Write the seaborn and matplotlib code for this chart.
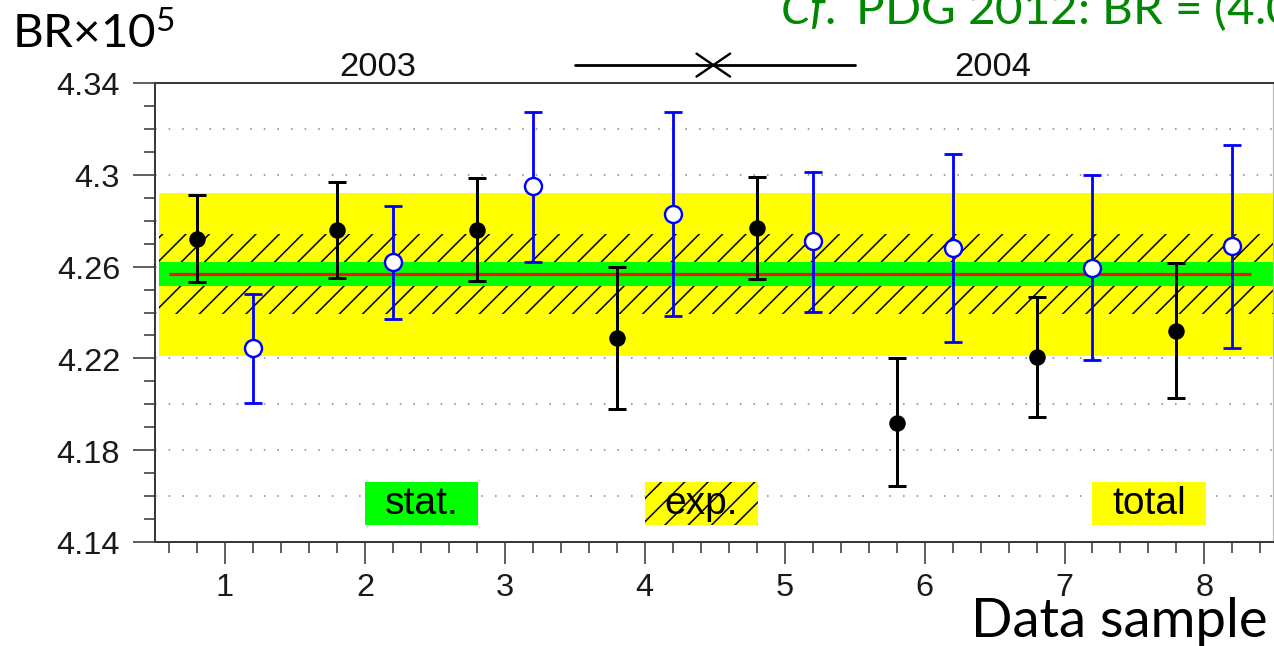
import numpy as np
import pandas as pd
import matplotlib
matplotlib.use("Agg")
import matplotlib.pyplot as plt
import seaborn as sns
from matplotlib.transforms import blended_transform_factory
from matplotlib.patches import Rectangle
from matplotlib.lines import Line2D
from matplotlib.ticker import MultipleLocator, FixedLocator, FuncFormatter

# ---------------- data ----------------
samples = [1, 2, 3, 4, 5, 6, 7, 8]
filled_br = [4.2720, 4.2759, 4.2759, 4.2288, 4.2768, 4.1919, 4.2205, 4.2321]
filled_lo = [4.2531, 4.2550, 4.2539, 4.1980, 4.2544, 4.1643, 4.1946, 4.2027]
filled_hi = [4.2913, 4.2970, 4.2986, 4.2600, 4.2992, 4.2202, 4.2466, 4.2616]
open_br = [4.2244, 4.2619, 4.2950, 4.2829, 4.2710, 4.2680, 4.2592, 4.2691]
open_lo = [4.2006, 4.2372, 4.2621, 4.2383, 4.2404, 4.2271, 4.2194, 4.2245]
open_hi = [4.2481, 4.2865, 4.3272, 4.3272, 4.3012, 4.3089, 4.2998, 4.3130]

br_mean = 4.2567
err_stat = 0.0051
err_exp = 0.0175
err_total = 0.0355

year_labels = ["2003", "2004"]
legend_labels = ["stat.", "exp.", "total"]
y_label = "BR×10$^{\\mathrm{5}}$"
x_label = "Data sample"
pdg_text = r"$\mathit{Cf.}$ PDG 2012: BR = (4.09 ± 0.10)×10$^{-5}$"

# ---------------- style ----------------
DPI = 140
W, H = 1274, 647
P = 72.0 / DPI  # points per pixel

sns.set_theme(style="ticks")
plt.rcParams["font.family"] = ["Liberation Sans", "DejaVu Sans"]
plt.rcParams["mathtext.fontset"] = "custom"
plt.rcParams["mathtext.rm"] = "Lato"
plt.rcParams["mathtext.it"] = "Lato:italic"
plt.rcParams["hatch.linewidth"] = 0.8

fig = plt.figure(figsize=(W / DPI, H / DPI), dpi=DPI)
fig.patch.set_facecolor("white")
ax = fig.add_axes([155 / W, 1 - 543 / H, (1273 - 155) / W, (543 - 84) / H])
ax.set_facecolor("white")

x_off = 0.2
fx = np.array(samples) - x_off
ox = np.array(samples) + x_off
df_f = pd.DataFrame({"x": fx, "br": filled_br})
df_o = pd.DataFrame({"x": ox, "br": open_br})

# grid (dotted)
for gy in np.arange(4.16, 4.33, 0.02):
    ax.axhline(gy, color="#8a8a8a", lw=1.6 * P, ls=(0, (1, 7.5)), zorder=0.5)

# bands
band_x = [0.53, 8.49]
ax.fill_between(band_x, br_mean - err_total, br_mean + err_total,
                color="#ffff00", lw=0, zorder=1)
ax.fill_between(band_x, br_mean - err_exp, br_mean + err_exp,
                facecolor="none", edgecolor="black", hatch="//", lw=0, zorder=1.1)
ax.fill_between(band_x, br_mean - err_stat, br_mean + err_stat,
                color="#00ff00", lw=0, zorder=1.2)
ax.plot([0.6, 8.33], [br_mean, br_mean], color="#ff1010", lw=3.2 * P, zorder=1.3,
        solid_capstyle="butt")

# error bars
ax.errorbar(fx, filled_br,
            yerr=[np.array(filled_br) - np.array(filled_lo), np.array(filled_hi) - np.array(filled_br)],
            fmt="none", ecolor="black", elinewidth=3.0 * P, capsize=9.5 * P,
            capthick=3.0 * P, zorder=2)
ax.errorbar(ox, open_br,
            yerr=[np.array(open_br) - np.array(open_lo), np.array(open_hi) - np.array(open_br)],
            fmt="none", ecolor="#0000ff", elinewidth=2.8 * P, capsize=9.5 * P,
            capthick=2.8 * P, zorder=2)

sns.scatterplot(data=df_f, x="x", y="br", ax=ax, color="black", s=(16.5 * P) ** 2,
                edgecolor="black", linewidth=0, zorder=3, legend=False)
sns.scatterplot(data=df_o, x="x", y="br", ax=ax, facecolor="white", s=(17 * P) ** 2,
                edgecolor="#0000ff", linewidth=2.4 * P, zorder=3, legend=False)

# axes
ax.set_xlim(0.5, 8.49)
ax.set_ylim(4.14, 4.34)
ax.set_xlabel("")
ax.set_ylabel("")
ax.xaxis.set_major_locator(MultipleLocator(1))
ax.xaxis.set_minor_locator(MultipleLocator(0.2))
ax.yaxis.set_major_locator(FixedLocator(np.arange(4.14, 4.3401, 0.04)))
ax.yaxis.set_minor_locator(FixedLocator(np.arange(4.14, 4.3401, 0.01)))
ax.yaxis.set_major_formatter(FuncFormatter(lambda v, p: f"{v:.2f}".rstrip("0")))
ax.xaxis.set_major_formatter(FuncFormatter(lambda v, p: f"{int(round(v))}"))
spine_c = "#3a3a3a"
for s in ax.spines.values():
    s.set_visible(True)
    s.set_color(spine_c)
    s.set_linewidth(2.0 * P)
ax.spines["right"].set_color("#b8b8b8")
ax.spines["right"].set_linewidth(1.2 * P)
ax.tick_params(axis="both", which="major", direction="out", length=22 * P, width=1.6 * P,
               color=spine_c, labelsize=32.5 * P, labelcolor="#1a1a1a")
ax.tick_params(axis="both", which="minor", direction="out", length=11.5 * P, width=1.6 * P,
               color=spine_c)
ax.tick_params(axis="y", which="major", pad=13 * P)
ax.tick_params(axis="x", which="major", pad=8 * P)
ax.tick_params(top=False, right=False, which="both")

# legend boxes (in data coords)
box_y0, box_h = 4.1475, 0.0188
boxes = [(2.0, "#00ff00", None, legend_labels[0]),
         (4.0, "#ffff00", "//", legend_labels[1]),
         (7.2, "#ffff00", None, legend_labels[2])]
for bx, col, hat, lab in boxes:
    ax.add_patch(Rectangle((bx, box_y0), 0.81, box_h, facecolor=col, lw=0, zorder=4))
    if hat:
        ax.add_patch(Rectangle((bx, box_y0), 0.81, box_h, facecolor="none",
                               edgecolor="black", hatch=hat, lw=0, zorder=4.1))
    ax.text(bx + 0.405, box_y0 + box_h / 2, lab, ha="center", va="center",
            fontsize=39 * P, color="black", zorder=5)

# year annotations above plot
tr = blended_transform_factory(ax.transData, ax.transAxes)
for xc, lab in zip([2.09, 6.49], year_labels):
    ax.text(xc, 1.018, lab, transform=tr, ha="center", va="baseline",
            fontsize=34.5 * P, color="#111111", clip_on=False)
ax.add_line(Line2D([3.5, 5.5], [1.039, 1.039], transform=tr, color="black",
                   lw=2.8 * P, clip_on=False))
ax.add_line(Line2D([4.37, 4.61], [1.064, 1.014], transform=tr, color="black",
                   lw=2.4 * P, clip_on=False))
ax.add_line(Line2D([4.37, 4.61], [1.014, 1.064], transform=tr, color="black",
                   lw=2.4 * P, clip_on=False))

# big labels
fig.text(12 / W, 1 - 48 / H, y_label, ha="left", va="baseline",
         fontsize=47.5 * P, family="Lato", color="black")
fig.text(1268 / W, 1 - 637 / H, x_label, ha="right", va="baseline",
         fontsize=54.5 * P, family="Lato", color="black")
fig.text(780 / W, 1 - 25 / H, pdg_text, ha="left", va="baseline",
         fontsize=47.5 * P, family="Lato", color="#008800")

fig.savefig("out.png", dpi=DPI, facecolor="white")
